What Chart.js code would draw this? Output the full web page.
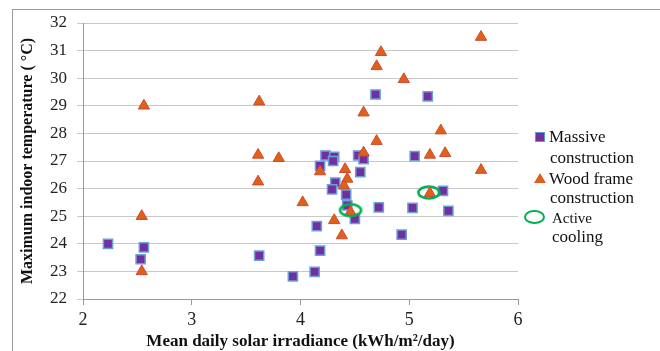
<!DOCTYPE html>
<html>
<head>
<meta charset="utf-8">
<script src="https://cdn.jsdelivr.net/npm/chart.js@4.4.1/dist/chart.umd.min.js"></script>
<style>
  body { margin: 0; background: #fff; overflow: hidden; }
  #wrap { position: relative; width: 660px; height: 351px; overflow: hidden; }
  #frame { position: absolute; left: 12px; top: 9px; width: 660px; height: 400px; border: 1px solid #999; }
  #chart { position: absolute; left: 0; top: 0; }
  .lg { position: absolute; font-family: 'Liberation Serif', serif; font-size: 17px; line-height: 19px; color: #111; white-space: nowrap; }
  .sq { position: absolute; width: 8px; height: 8px; background: #7030a0; border: 1px solid #5b9bd5; }
  .tri { position: absolute; width: 0; height: 0; border-left: 6px solid transparent; border-right: 6px solid transparent; border-bottom: 10px solid #e0601a; }
  .ell { position: absolute; width: 17px; height: 10px; border: 2.5px solid #00b050; border-radius: 50%; }
</style>
</head>
<body>
<div id="wrap">
  <div id="frame"></div>
  <canvas id="chart" width="660" height="351"></canvas>
  <div class="sq" style="left:535px; top:132px;"></div>
  <div class="lg" style="left:549px; top:127px;">Massive</div>
  <div class="lg" style="left:550px; top:148px;">construction</div>
  <div class="tri" style="left:534px; top:173px;"></div>
  <div class="lg" style="left:549px; top:169px;">Wood frame</div>
  <div class="lg" style="left:550px; top:188px;">construction</div>
  <div class="ell" style="left:524px; top:210px;"></div>
  <div class="lg" style="left:552px; top:209px; font-size:15px;">Active</div>
  <div class="lg" style="left:552px; top:227px;">cooling</div>
</div>
<script>
const massiveX = [2.23, 2.56, 2.53, 3.62, 3.93, 4.13, 4.18, 4.15, 4.93, 4.23, 4.31, 4.30, 4.53, 4.58, 4.18, 4.55, 4.32, 4.29, 4.42, 4.43, 4.50, 4.72, 5.05, 5.31, 5.03, 5.36, 4.69, 5.17];
const massiveY = [24.0, 23.87, 23.44, 23.57, 22.82, 22.98, 23.75, 24.64, 24.33, 27.2, 27.15, 27.0, 27.2, 27.07, 26.82, 26.6, 26.22, 25.97, 25.78, 25.39, 24.9, 25.32, 27.18, 25.92, 25.3, 25.19, 29.41, 29.34];

const woodX = [2.54, 2.54, 2.56, 3.62, 3.61, 3.80, 3.61, 4.02, 4.18, 4.41, 4.43, 4.40, 4.46, 4.31, 4.38, 4.58, 4.70, 4.58, 4.95, 4.70, 4.74, 5.66, 5.29, 5.19, 5.33, 5.66, 5.19];
const woodY = [25.0, 23.0, 29.0, 29.15, 27.22, 27.1, 26.25, 25.5, 26.62, 26.7, 26.35, 26.1, 25.15, 24.85, 24.3, 27.3, 27.72, 28.75, 29.96, 30.43, 30.94, 31.49, 28.1, 27.22, 27.28, 26.67, 25.83];

const coolingX = [4.46, 5.18];
const coolingY = [25.22, 25.86];

const xTicks = [2, 3, 4, 5, 6];
const yRange = [22, 32];

function toPoints(xs, ys) {
    return xs.map(function (x, i) { return { x: x, y: ys[i] }; });
}

// hollow green ellipse used as point style for the active cooling marks
const ring = document.createElement('canvas');
ring.width = 26;
ring.height = 17;
const rc = ring.getContext('2d');
rc.strokeStyle = '#00b050';
rc.lineWidth = 2.6;
rc.beginPath();
rc.ellipse(13, 8.5, 10.5, 6, 0, 0, Math.PI * 2);
rc.stroke();

const serif = "'Liberation Serif', 'Times New Roman', serif";

new Chart(document.getElementById('chart'), {
    type: 'scatter',
    data: {
        datasets: [{
            label: 'Massive construction',
            data: toPoints(massiveX, massiveY),
            pointStyle: 'rect',
            pointRadius: 6.5,
            backgroundColor: '#7030a0',
            borderColor: '#6d9fd8',
            borderWidth: 1.5,
            order: 2
        }, {
            label: 'Wood frame construction',
            data: toPoints(woodX, woodY),
            pointStyle: 'triangle',
            pointRadius: 6.5,
            backgroundColor: '#e0601a',
            borderColor: '#d04a30',
            borderWidth: 1,
            order: 1
        }, {
            label: 'Active cooling',
            data: toPoints(coolingX, coolingY),
            pointStyle: ring,
            order: 0
        }]
    },
    options: {
        responsive: false,
        animation: false,
        events: [],
        layout: { padding: { top: 23, right: 142, left: 0, bottom: 0 } },
        plugins: { legend: { display: false }, tooltip: { enabled: false } },
        scales: {
            x: {
                type: 'linear',
                min: xTicks[0],
                max: xTicks[xTicks.length - 1],
                afterFit: function (s) { s.height = 52; },
                afterBuildTicks: function (s) { s.ticks = xTicks.map(function (v) { return { value: v }; }); },
                grid: { drawOnChartArea: false, color: '#999', tickLength: 6 },
                border: { color: '#999' },
                ticks: { color: '#222', padding: 4, font: { family: serif, size: 18 } },
                title: {
                    display: true,
                    text: 'Mean daily solar irradiance (kWh/m²/day)',
                    color: '#111',
                    padding: { top: 0, bottom: 0 },
                    font: { family: serif, size: 17, weight: 'bold', lineHeight: 1.05 }
                }
            },
            y: {
                min: yRange[0],
                max: yRange[1],
                afterFit: function (s) { s.width = 83; },
                ticks: { stepSize: 1, color: '#222', padding: 10, font: { family: serif, size: 17 } },
                grid: { color: '#c8c8c8', tickLength: 6 },
                border: { color: '#999' },
                title: {
                    display: true,
                    text: 'Maximum indoor temperature ( °C)',
                    color: '#111',
                    padding: { top: 19, bottom: 0 },
                    font: { family: serif, size: 16, weight: 'bold', lineHeight: 1.1 }
                }
            }
        }
    }
});
</script>
</body>
</html>
